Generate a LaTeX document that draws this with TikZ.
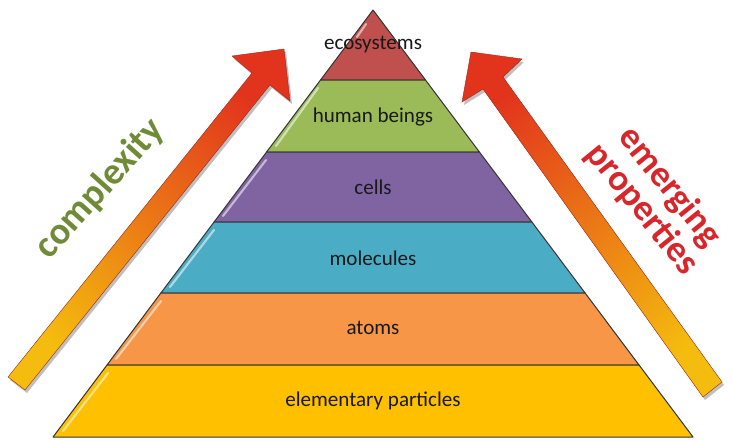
\documentclass[tikz,border=0pt]{standalone}
\usepackage{fontspec}
\setmainfont{Carlito}
\usetikzlibrary{calc}
\definecolor{lyred}{HTML}{C0504D}
\definecolor{lygreen}{HTML}{9BBB59}
\definecolor{lypurple}{HTML}{8064A2}
\definecolor{lyteal}{HTML}{4BACC6}
\definecolor{lyorange}{HTML}{F79646}
\definecolor{lygold}{HTML}{FFC000}
\definecolor{arrred}{HTML}{E2341D}
\definecolor{arrorange}{HTML}{EE8A1A}
\definecolor{arrgold}{HTML}{F4BC0E}
\definecolor{txtgreen}{HTML}{6F8B38}
\definecolor{txtred}{HTML}{D9262B}
\definecolor{outline}{HTML}{333333}
\tikzset{
  layer/.style={draw=outline, line width=0.75pt, line join=round},
  shine/.style={draw=white, opacity=0.55, line width=1.6pt, line cap=round},
  layertext/.style={font=\fontsize{15.8}{18}\selectfont, text=black!90, inner sep=0pt},
  bigtext/.style={font=\fontsize{28.5}{28.5}\selectfont\bfseries, inner sep=0pt, align=center},
  arrowshadow/.style={fill=black, opacity=0.25},
  bigarrow/.style={draw=arrred!70!black, line width=0.3pt, line join=miter}
}
\begin{document}
\begin{tikzpicture}[x=0.75pt,y=-0.75pt]
\useasboundingbox (0,0) rectangle (732,440);
\fill[white] (0,0) rectangle (732,440);

% ---------- pyramid layers ----------
\coordinate (apex) at (373,10);
\path[layer, fill=lyred]    (apex) -- (425.5,80) -- (320.5,80) -- cycle;
\path[layer, fill=lygreen]  (320.5,80) -- (425.5,80) -- (479.4,152) -- (266.6,152) -- cycle;
\path[layer, fill=lypurple] (266.6,152) -- (479.4,152) -- (531.9,222) -- (214.1,222) -- cycle;
\path[layer, fill=lyteal]   (214.1,222) -- (531.9,222) -- (585.1,293) -- (160.9,293) -- cycle;
\path[layer, fill=lyorange] (160.9,293) -- (585.1,293) -- (639.0,365) -- (107.0,365) -- cycle;
\path[layer, fill=lygold]   (107.0,365) -- (639.0,365) -- (693,437) -- (53,437) -- cycle;

% shine highlights along left edges
\draw[shine] (366,24) -- (357,37);
\draw[shine] (276,146) -- (318,88);
\draw[shine] (223,216) -- (266,160);
\draw[shine] (170,287) -- (214,230);
\draw[shine] (116,359) -- (161,301);
\draw[shine] (63,431) -- (108,373);

% ---------- layer labels ----------
\node[layertext] (eco)  at (373,45)  {ecosystems};
\node[layertext] (hum)  at (373,117) {human beings};
\node[layertext] (cel)  at (373,187) {cells};
\node[layertext] (mol)  at (373,258) {molecules};
\node[layertext] (ato)  at (373,328) {atoms};
\node[layertext] (ele)  at (373,401) {elementary particles};

% ---------- left arrow ----------
\fill[arrowshadow] ([shift={(2,3)}]8,377) -- ([shift={(2,3)}]252,73) -- ([shift={(2,3)}]232,56) -- ([shift={(2,3)}]284,49) -- ([shift={(2,3)}]290,101) -- ([shift={(2,3)}]270,85) -- ([shift={(2,3)}]25,390) -- cycle;
\path[bigarrow, top color=arrred, middle color=arrorange, bottom color=arrgold, shading angle=-39]
  (8,377) -- (252,73) -- (232,56) -- (284,49) -- (290,101) -- (270,85) -- (25,390) -- cycle;

% ---------- right arrow ----------
\fill[arrowshadow] ([shift={(2,3)}]703,397) -- ([shift={(2,3)}]483,89) -- ([shift={(2,3)}]462,102) -- ([shift={(2,3)}]471,52) -- ([shift={(2,3)}]522,59) -- ([shift={(2,3)}]503,77) -- ([shift={(2,3)}]722,382) -- cycle;
\path[bigarrow, top color=arrred, middle color=arrorange, bottom color=arrgold, shading angle=36]
  (703,397) -- (483,89) -- (462,102) -- (471,52) -- (522,59) -- (503,77) -- (722,382) -- cycle;

% ---------- side labels ----------
\node[bigtext, rotate=48, text=txtgreen] (cplx) at (100,189) {complexity};
\node[bigtext, rotate=-51, text=txtred, font=\fontsize{27.5}{27.5}\selectfont\bfseries] (emp) at (656,198) {emerging\\[-1pt]properties};
\end{tikzpicture}
\end{document}
